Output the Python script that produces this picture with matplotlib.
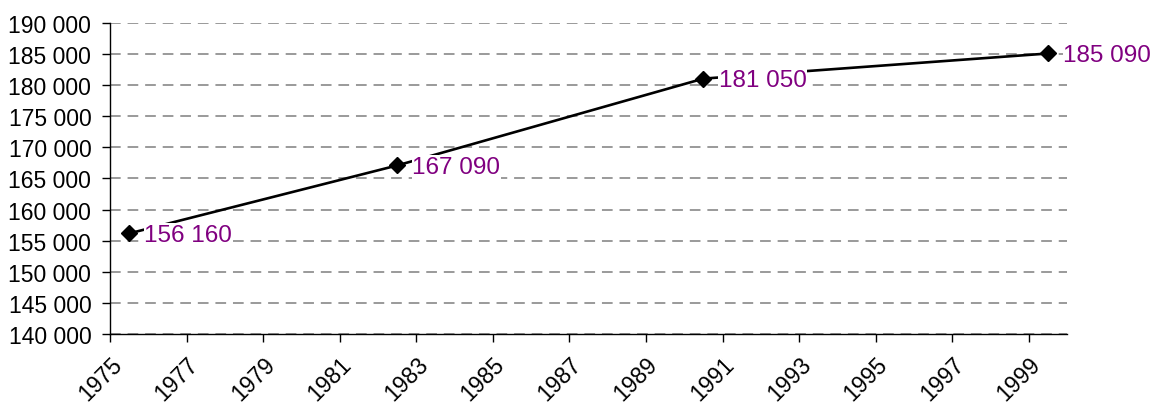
import matplotlib.pyplot as plt
from matplotlib.ticker import FuncFormatter

# données (recensements)
annees = [1975.5, 1982.5, 1990.5, 1999.5]
population = [156160, 167090, 181050, 185090]
etiquettes = ["156 160", "167 090", "181 050", "185 090"]

plt.rcParams['font.family'] = ['Liberation Sans', 'DejaVu Sans']

fig = plt.figure(figsize=(11.58, 4.06), dpi=100)
ax = fig.add_axes([0.095, 0.175, 0.8265, 0.766])

ax.plot(annees, population, color='black', lw=1.9, marker='D', ms=8,
        zorder=3, clip_on=False)

for x, y, txt in zip(annees, population, etiquettes):
    ax.annotate(txt, (x, y), xytext=(11, -1), textcoords='offset points',
                ha='left', va='center', color='#800080', fontsize=17.5,
                bbox=dict(facecolor='white', edgecolor='none', pad=0.5),
                zorder=4, annotation_clip=False)

ax.set_xlim(1975, 2000)
ax.set_ylim(140000, 190000)
ax.set_xticks(range(1975, 2000, 2))
ax.set_yticks(range(140000, 190001, 5000))
ax.yaxis.set_major_formatter(FuncFormatter(lambda v, p: f"{int(v):,}".replace(",", " ")))

ax.grid(axis='y', color='#7f7f7f', lw=1.1, linestyle=(0, (7, 4.5)))
ax.set_axisbelow(True)

for s in ['top', 'right']:
    ax.spines[s].set_visible(False)
ax.spines['left'].set_linewidth(1)
ax.spines['bottom'].set_linewidth(1)

ax.tick_params(axis='y', length=5.5, width=1, labelsize=16.5, pad=8, direction='out')
ax.tick_params(axis='x', length=6, width=1, labelsize=16.5, pad=7, direction='out')
plt.setp(ax.get_xticklabels(), rotation=45, ha='right', rotation_mode='anchor')

fig.savefig('out.png', dpi=100)
